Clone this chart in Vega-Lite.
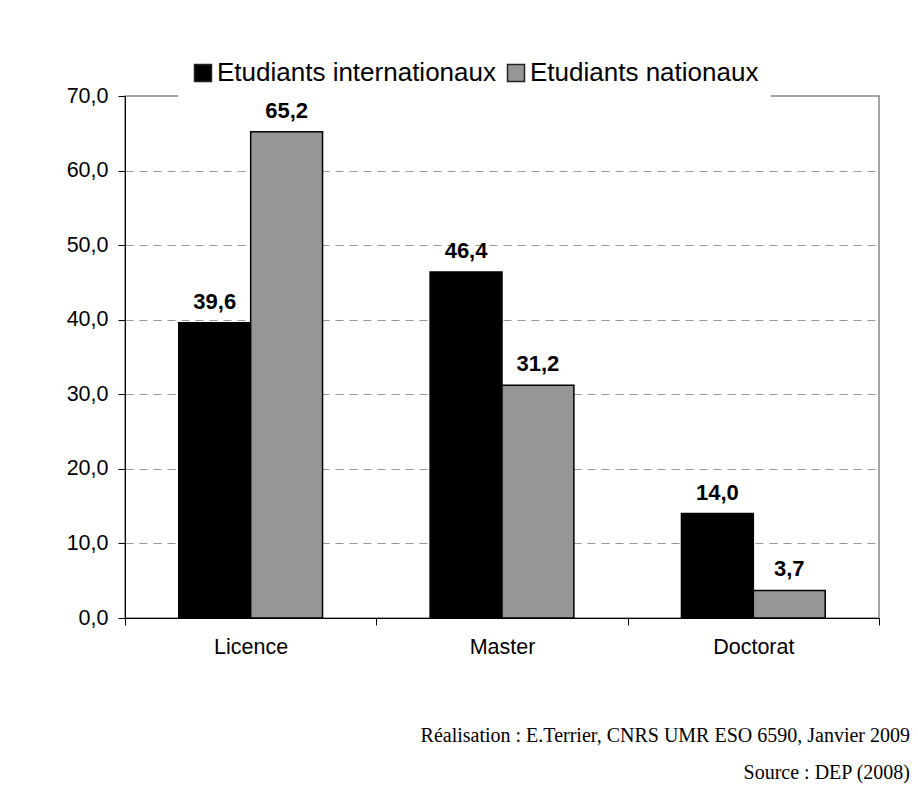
{
  "$schema": "https://vega.github.io/schema/vega-lite/v6.json",
  "autosize": "none",
  "width": 754,
  "height": 522,
  "padding": {"left": 125, "top": 96, "right": 39, "bottom": 187},
  "background": "white",
  "data": {
    "values": [
      {"niveau": "Licence", "serie": "Etudiants internationaux", "pct": 39.6},
      {"niveau": "Licence", "serie": "Etudiants nationaux", "pct": 65.2},
      {"niveau": "Master", "serie": "Etudiants internationaux", "pct": 46.4},
      {"niveau": "Master", "serie": "Etudiants nationaux", "pct": 31.2},
      {"niveau": "Doctorat", "serie": "Etudiants internationaux", "pct": 14.0},
      {"niveau": "Doctorat", "serie": "Etudiants nationaux", "pct": 3.7}
    ]
  },
  "title": {
    "text": "Réalisation : E.Terrier, CNRS UMR ESO 6590, Janvier 2009",
    "subtitle": "Source : DEP (2008)",
    "orient": "bottom",
    "anchor": "end",
    "frame": "group",
    "font": "Liberation Serif",
    "fontSize": 20,
    "fontWeight": "normal",
    "color": "black",
    "subtitleFont": "Liberation Serif",
    "subtitleFontSize": 20,
    "subtitleColor": "black",
    "subtitlePadding": 17,
    "offset": 68,
    "dx": 31
  },
  "encoding": {
    "x": {
      "field": "niveau",
      "type": "nominal",
      "sort": ["Licence", "Master", "Doctorat"],
      "scale": {"paddingInner": 0, "paddingOuter": 0},
      "axis": {
        "title": null,
        "labelAngle": 0,
        "tickBand": "extent",
        "domainColor": "black",
        "domainWidth": 1,
        "tickColor": "black",
        "tickSize": 7,
        "labelFont": "Liberation Sans",
        "labelFontSize": 21.5,
        "labelColor": "black",
        "labelPadding": 11,
        "grid": false
      }
    },
    "xOffset": {
      "field": "serie",
      "type": "nominal",
      "sort": ["Etudiants internationaux", "Etudiants nationaux"],
      "scale": {"paddingInner": 0, "paddingOuter": 0.748}
    },
    "y": {
      "field": "pct",
      "type": "quantitative",
      "scale": {"domain": [0, 70], "nice": false},
      "axis": {
        "title": null,
        "values": [0, 10, 20, 30, 40, 50, 60, 70],
        "format": ".1f",
        "domainColor": "black",
        "domainWidth": 1,
        "tickColor": "black",
        "tickSize": 7,
        "labelFont": "Liberation Sans",
        "labelFontSize": 21.5,
        "labelColor": "black",
        "labelPadding": 10,
        "grid": true,
        "gridColor": "#999999",
        "gridDash": [8, 6],
        "gridWidth": 1,
        "gridOpacity": {"condition": {"test": "datum.value == 0 || datum.value == 70", "value": 0}, "value": 1}
      }
    }
  },
  "layer": [
    {
      "mark": {"type": "bar", "stroke": "black", "strokeWidth": 1.5},
      "encoding": {
        "color": {
          "field": "serie",
          "type": "nominal",
          "sort": ["Etudiants internationaux", "Etudiants nationaux"],
          "scale": {"domain": ["Etudiants internationaux", "Etudiants nationaux"], "range": ["#000000", "#969696"]},
          "legend": {
            "title": null,
            "orient": "none",
            "direction": "horizontal",
            "columns": 2,
            "legendX": 53,
            "legendY": -48,
            "padding": 12,
            "fillColor": "white",
            "zindex": 2,
            "symbolType": "square",
            "symbolSize": 289,
            "symbolStrokeColor": "#222222",
            "symbolStrokeWidth": 1.5,
            "symbolOpacity": 1,
            "labelFont": "Liberation Sans",
            "labelFontSize": 26,
            "labelColor": "black",
            "labelOffset": 1,
            "columnPadding": 7,
            "labelLimit": 400
          }
        }
      }
    },
    {
      "mark": {
        "type": "text",
        "font": "Liberation Sans",
        "fontSize": 22,
        "fontWeight": "bold",
        "color": "black",
        "baseline": "alphabetic",
        "dy": -14
      },
      "encoding": {
        "text": {"field": "pct", "type": "quantitative", "format": ".1f"}
      }
    }
  ],
  "config": {
    "locale": {
      "number": {"decimal": ",", "thousands": " ", "grouping": [3], "currency": ["", " €"]}
    },
    "view": {"stroke": "#888888", "strokeWidth": 1.5}
  }
}
